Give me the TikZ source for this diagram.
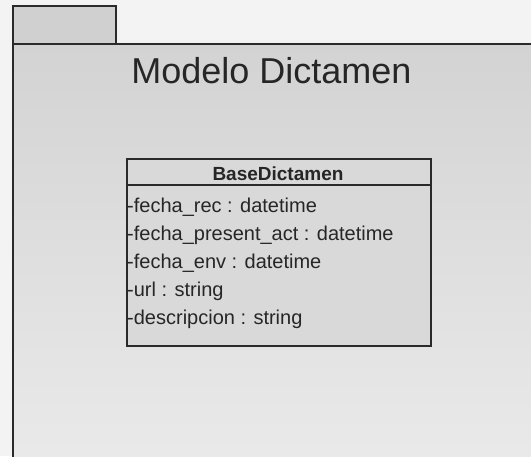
\documentclass[tikz,border=0pt]{standalone}
\usepackage{fontspec}
\setmainfont{Liberation Sans}
\definecolor{inkline}{HTML}{2A2A2A}
\definecolor{inktext}{HTML}{262626}
\definecolor{paper}{HTML}{F3F3F3}
\definecolor{pkgtop}{HTML}{D3D3D3}
\definecolor{pkgbottom}{HTML}{EAEAEA}
\definecolor{tabfill}{HTML}{D0D0D0}
\definecolor{classfill}{HTML}{D9D9D9}
\begin{document}
\begin{tikzpicture}[x=1pt,y=-1pt,
  outline/.style={draw=inkline, line width=2pt},
  attr/.style={anchor=base west, inner sep=0pt, text=inktext,
    font=\fontsize{20}{24}\selectfont},
  ]
  \clip (0,0) rectangle (531,456);
  \fill[paper] (0,0) rectangle (531,456);

  % package folder: tab and body
  \draw[outline, fill=tabfill] (12.5,6) rectangle (116,44);
  \draw[outline, top color=pkgtop, bottom color=pkgbottom] (12.5,44) rectangle (545,470);
  \node[anchor=base, inner sep=0pt, text=inktext,
        font=\fontsize{36}{40}\selectfont] (title) at (271.5,83) {Modelo Dictamen};

  % class BaseDictamen: outer box, then the line under the name compartment
  \node[outline, fill=classfill, anchor=north west, inner sep=0pt,
        minimum width=304pt, minimum height=187pt] (cls) at (126,158) {};
  \coordinate (sepL) at (126,185);
  \coordinate (sepR) at (430,185);
  \draw[outline] (sepL) -- (sepR);
  \node[anchor=base, inner sep=0pt, text=inktext,
        font=\bfseries\fontsize{19}{22}\selectfont] (cname) at (278,180) {BaseDictamen};

  \node[attr] (a1) at (127,212) {-fecha\_rec : datetime};
  \node[attr] (a2) at (127,240) {-fecha\_present\_act : datetime};
  \node[attr] (a3) at (127,268) {-fecha\_env : datetime};
  \node[attr] (a4) at (127,296) {-url : string};
  \node[attr] (a5) at (127,324) {-descripcion : string};
\end{tikzpicture}
\end{document}
